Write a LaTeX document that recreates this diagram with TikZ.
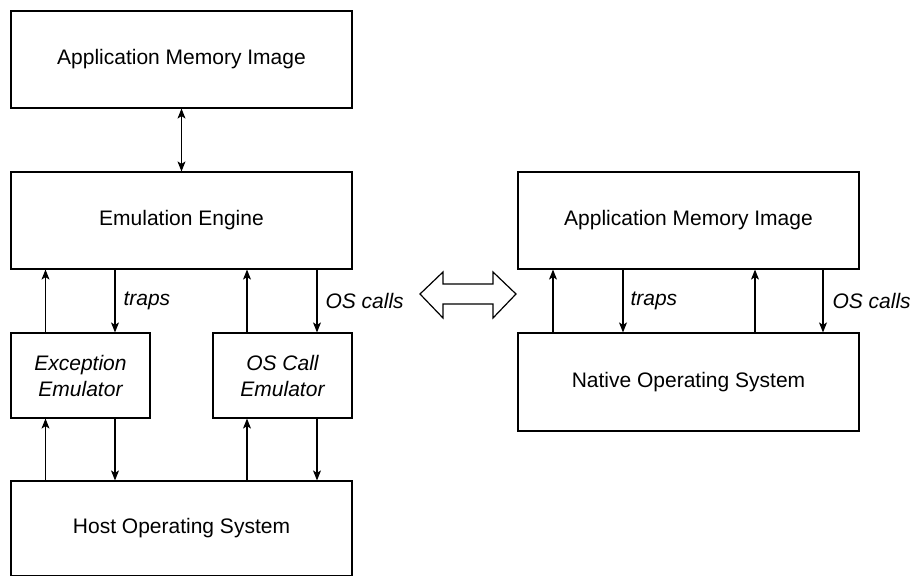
\documentclass[tikz,border=0pt]{standalone}
\usepackage{fontspec}
\setmainfont{Liberation Sans}
\usetikzlibrary{arrows.meta}
\begin{document}
\begin{tikzpicture}[x=1pt,y=-1pt,
  box/.style={draw,line width=1.2pt,minimum width=341pt,inner sep=0pt,align=center,font=\fontsize{21}{26}\selectfont},
  ebox/.style={draw,line width=1.2pt,minimum width=139pt,minimum height=85pt,inner sep=0pt,align=center,font=\fontsize{21}{26}\selectfont\itshape},
  arr/.style={line width=1.1pt,-{Stealth[length=10pt,width=8pt,inset=2.5pt]}},
  darr/.style={line width=1.1pt,{Stealth[length=10pt,width=8pt,inset=2.5pt]}-{Stealth[length=10pt,width=8pt,inset=2.5pt]}},
  lbl/.style={anchor=west,inner sep=0pt,font=\fontsize{21}{26}\selectfont\itshape}]
\useasboundingbox (0,0) rectangle (914,576);
\node[box,minimum height=97pt] (app1) at (181.5,59.5) {Application Memory Image};
\node[box,minimum height=97pt] (ee) at (181.5,220.5) {Emulation Engine};
\node[ebox] (exc) at (80.5,375.5) {Exception\\Emulator};
\node[ebox] (osc) at (282.5,375.5) {OS Call\\Emulator};
\node[box,minimum height=95pt] (host) at (181.5,528.5) {Host Operating System};
\node[box,minimum height=97pt] (app2) at (688.5,220.5) {Application Memory Image};
\node[box,minimum height=98pt] (nat) at (688.5,382) {Native Operating System};

\draw[darr] (app1.south) -- (ee.north);

\draw[arr] ([xshift=-35pt]exc.north) -- ([xshift=-35pt]exc.north |- ee.south);
\draw[arr] ([xshift=34.5pt]exc.north |- ee.south) -- ([xshift=34.5pt]exc.north)
  node[lbl,pos=0.5,xshift=8pt] (t1) {traps};
\draw[arr] ([xshift=-35.5pt]osc.north) -- ([xshift=-35.5pt]osc.north |- ee.south);
\draw[arr] ([xshift=34.5pt]osc.north |- ee.south) -- ([xshift=34.5pt]osc.north)
  node[lbl,pos=0.5,xshift=8pt] (c1) {OS calls};

\draw[arr] ([xshift=-35pt]exc.north |- host.north) -- ([xshift=-35pt]exc.south);
\draw[arr] ([xshift=34.5pt]exc.south) -- ([xshift=34.5pt]exc.north |- host.north);
\draw[arr] ([xshift=-35.5pt]osc.north |- host.north) -- ([xshift=-35.5pt]osc.south);
\draw[arr] ([xshift=34.5pt]osc.south) -- ([xshift=34.5pt]osc.north |- host.north);

\draw[arr] ([xshift=-135.5pt]nat.north) -- ([xshift=-135.5pt]app2.south);
\draw[arr] ([xshift=-65.5pt]app2.south) -- ([xshift=-65.5pt]nat.north)
  node[lbl,pos=0.5,xshift=7pt] (t2) {traps};
\draw[arr] ([xshift=66.5pt]nat.north) -- ([xshift=66.5pt]app2.south);
\draw[arr] ([xshift=134.5pt]app2.south) -- ([xshift=134.5pt]nat.north)
  node[lbl,pos=0.5,xshift=9pt] (c2) {OS calls};

\draw[line width=1.2pt,line join=miter] (420,294) -- (443,272) -- (443,284) -- (493,284) -- (493,272) -- (516,294) -- (493,318) -- (493,304) -- (443,304) -- (443,318) -- cycle;
\end{tikzpicture}
\end{document}
